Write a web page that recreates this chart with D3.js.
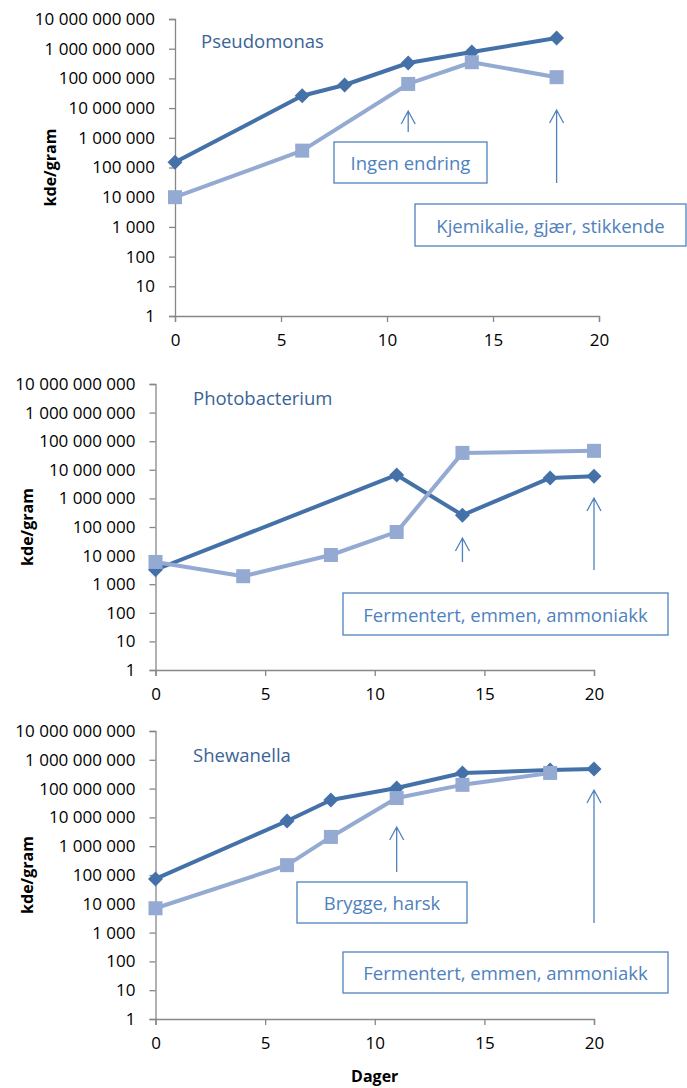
<!DOCTYPE html>
<html>
<head>
<meta charset="utf-8">
<script src="https://cdn.jsdelivr.net/npm/d3@7"></script>
<style>
  html, body { margin: 0; padding: 0; background: #fff; }
  svg { display: block; font-family: "Open Sans", "Noto Sans", sans-serif; }
</style>
</head>
<body>
<svg id="chart" width="687" height="1088"></svg>
<script>
// Bacterial counts (kde/gram) over storage days, three organisms
const yTickValues = [1, 10, 100, 1e3, 1e4, 1e5, 1e6, 1e7, 1e8, 1e9, 1e10];
const xTickValues = [0, 5, 10, 15, 20];

const pseudoDarkDays = [0, 6, 8, 11, 14, 18];
const pseudoDark = [1.5e5, 2.6e7, 6.0e7, 3.3e8, 7.7e8, 2.3e9];
const pseudoLightDays = [0, 6, 11, 14, 18];
const pseudoLight = [1.0e4, 3.7e5, 6.5e7, 3.5e8, 1.1e8];

const photoDarkDays = [0, 11, 14, 18, 20];
const photoDark = [3.2e3, 6.6e6, 2.6e5, 5.2e6, 6.0e6];
const photoLightDays = [0, 4, 8, 11, 14, 20];
const photoLight = [6.0e3, 1.9e3, 1.05e4, 6.7e4, 3.9e7, 4.6e7];

const shewDarkDays = [0, 6, 8, 11, 14, 18, 20];
const shewDark = [7.3e4, 7.5e6, 4.0e7, 1.05e8, 3.5e8, 4.4e8, 4.8e8];
const shewLightDays = [0, 6, 8, 11, 14, 18];
const shewLight = [7.0e3, 2.2e5, 2.1e6, 4.7e7, 1.35e8, 3.5e8];

const titles = ["Pseudomonas", "Photobacterium", "Shewanella"];
const yLabel = "kde/gram";
const xLabel = "Dager";

const DARK = "#4571a9";
const LIGHT = "#94aad2";
const AXIS = "#878787";
const NOTE = "#4f81bd";
const TITLE = "#3a6497";

const zip = (xs, ys) => xs.map((d, i) => ({ x: d, y: ys[i] }));

// Panel layout: plot frame, annotations (arrows at a day, boxes in pixels)
const panels = [
  {
    title: titles[0], titleX: 201, titleY: 48,
    left: 175, right: 599, top: 19, bottom: 316,
    labelX: 50,
    dark: zip(pseudoDarkDays, pseudoDark),
    light: zip(pseudoLightDays, pseudoLight),
    arrows: [{ day: 11, y0: 132, y1: 111 }, { day: 18, y0: 183, y1: 110 }],
    boxes: [
      { text: "Ingen endring", x: 334, y: 142, w: 153, h: 41 },
      { text: "Kjemikalie, gjær, stikkende", x: 415, y: 204, w: 271, h: 42 }
    ]
  },
  {
    title: titles[1], titleX: 193, titleY: 405,
    left: 155.5, right: 594, top: 384, bottom: 670,
    labelX: 27,
    dark: zip(photoDarkDays, photoDark),
    light: zip(photoLightDays, photoLight),
    arrows: [{ day: 14, y0: 562, y1: 538 }, { day: 20, y0: 570, y1: 498 }],
    boxes: [
      { text: "Fermentert, emmen, ammoniakk", x: 343, y: 593, w: 325, h: 42 }
    ]
  },
  {
    title: titles[2], titleX: 193, titleY: 762,
    left: 155.5, right: 594, top: 731, bottom: 1019,
    labelX: 27,
    dark: zip(shewDarkDays, shewDark),
    light: zip(shewLightDays, shewLight),
    arrows: [{ day: 11, y0: 872, y1: 827 }, { day: 20, y0: 923, y1: 790 }],
    boxes: [
      { text: "Brygge, harsk", x: 297, y: 882, w: 170, h: 41 },
      { text: "Fermentert, emmen, ammoniakk", x: 343, y: 952, w: 325, h: 41 }
    ],
    xTitle: true
  }
];

const svg = d3.select("#chart");
const fmt = v => d3.format(",")(v).replace(/,/g, " ");

panels.forEach(p => {
  const g = svg.append("g");
  const x = d3.scaleLinear().domain([0, 20]).range([p.left, p.right]);
  const y = d3.scaleLog().domain([1, 1e10]).range([p.bottom, p.top]);

  // y axis
  const yAxis = g.append("g")
    .attr("transform", `translate(${p.left},0)`)
    .call(d3.axisLeft(y).tickValues(yTickValues).tickFormat(fmt).tickSizeOuter(0).tickSize(6).tickPadding(14));
  yAxis.select(".domain").attr("stroke", AXIS).attr("stroke-width", 1.3);
  yAxis.selectAll(".tick line").attr("stroke", AXIS).attr("stroke-width", 1.3);
  yAxis.selectAll(".tick text")
    .attr("fill", "#000").attr("font-size", 17).attr("font-family", "Open Sans");

  // x axis
  const xAxis = g.append("g")
    .attr("transform", `translate(0,${p.bottom})`)
    .call(d3.axisBottom(x).tickValues(xTickValues).tickSizeOuter(0).tickSize(6).tickPadding(12));
  xAxis.select(".domain").attr("stroke", AXIS).attr("stroke-width", 1.3);
  xAxis.selectAll(".tick line").attr("stroke", AXIS).attr("stroke-width", 1.3);
  xAxis.selectAll(".tick text")
    .attr("fill", "#000").attr("font-size", 17).attr("font-family", "Open Sans");

  // y axis title
  g.append("text")
    .attr("transform", `translate(${p.labelX},${(p.top + p.bottom) / 2}) rotate(-90)`)
    .attr("text-anchor", "middle").attr("dominant-baseline", "central")
    .attr("font-weight", "bold").attr("font-size", 16).attr("fill", "#000")
    .text(yLabel);

  // organism title
  g.append("text")
    .attr("x", p.titleX).attr("y", p.titleY)
    .attr("font-size", 18.5).attr("fill", TITLE)
    .text(p.title);

  const line = d3.line().x(d => x(d.x)).y(d => y(d.y));

  // dark series with diamonds
  g.append("path").datum(p.dark)
    .attr("d", line).attr("fill", "none").attr("stroke", DARK)
    .attr("stroke-width", 4).attr("stroke-linejoin", "round");
  g.selectAll(".dia").data(p.dark).join("path")
    .attr("transform", d => `translate(${x(d.x)},${y(d.y)}) rotate(45)`)
    .attr("d", "M-5.3,-5.3H5.3V5.3H-5.3Z").attr("fill", DARK);

  // light series with squares
  g.append("path").datum(p.light)
    .attr("d", line).attr("fill", "none").attr("stroke", LIGHT)
    .attr("stroke-width", 4).attr("stroke-linejoin", "round");
  g.selectAll(".sq").data(p.light).join("rect")
    .attr("x", d => x(d.x) - 7).attr("y", d => y(d.y) - 7)
    .attr("width", 14).attr("height", 14).attr("fill", LIGHT);

  // arrows
  p.arrows.forEach(a => {
    const ax = x(a.day);
    g.append("path")
      .attr("d", `M${ax},${a.y0}V${a.y1}M${ax - 7},${a.y1 + 13}L${ax},${a.y1}L${ax + 7},${a.y1 + 13}`)
      .attr("fill", "none").attr("stroke", NOTE).attr("stroke-width", 1.3);
  });

  // annotation boxes
  p.boxes.forEach(b => {
    g.append("rect")
      .attr("x", b.x).attr("y", b.y).attr("width", b.w).attr("height", b.h)
      .attr("fill", "#fff").attr("stroke", NOTE).attr("stroke-width", 1.3);
    g.append("text")
      .attr("x", b.x + b.w / 2).attr("y", b.y + b.h / 2)
      .attr("text-anchor", "middle").attr("dominant-baseline", "central")
      .attr("font-size", 18.5).attr("fill", NOTE)
      .text(b.text);
  });

  if (p.xTitle) {
    g.append("text")
      .attr("x", (p.left + p.right) / 2).attr("y", p.bottom + 57)
      .attr("text-anchor", "middle").attr("dominant-baseline", "central")
      .attr("font-weight", "bold").attr("font-size", 16).attr("fill", "#000")
      .text(xLabel);
  }
});
</script>
</body>
</html>
